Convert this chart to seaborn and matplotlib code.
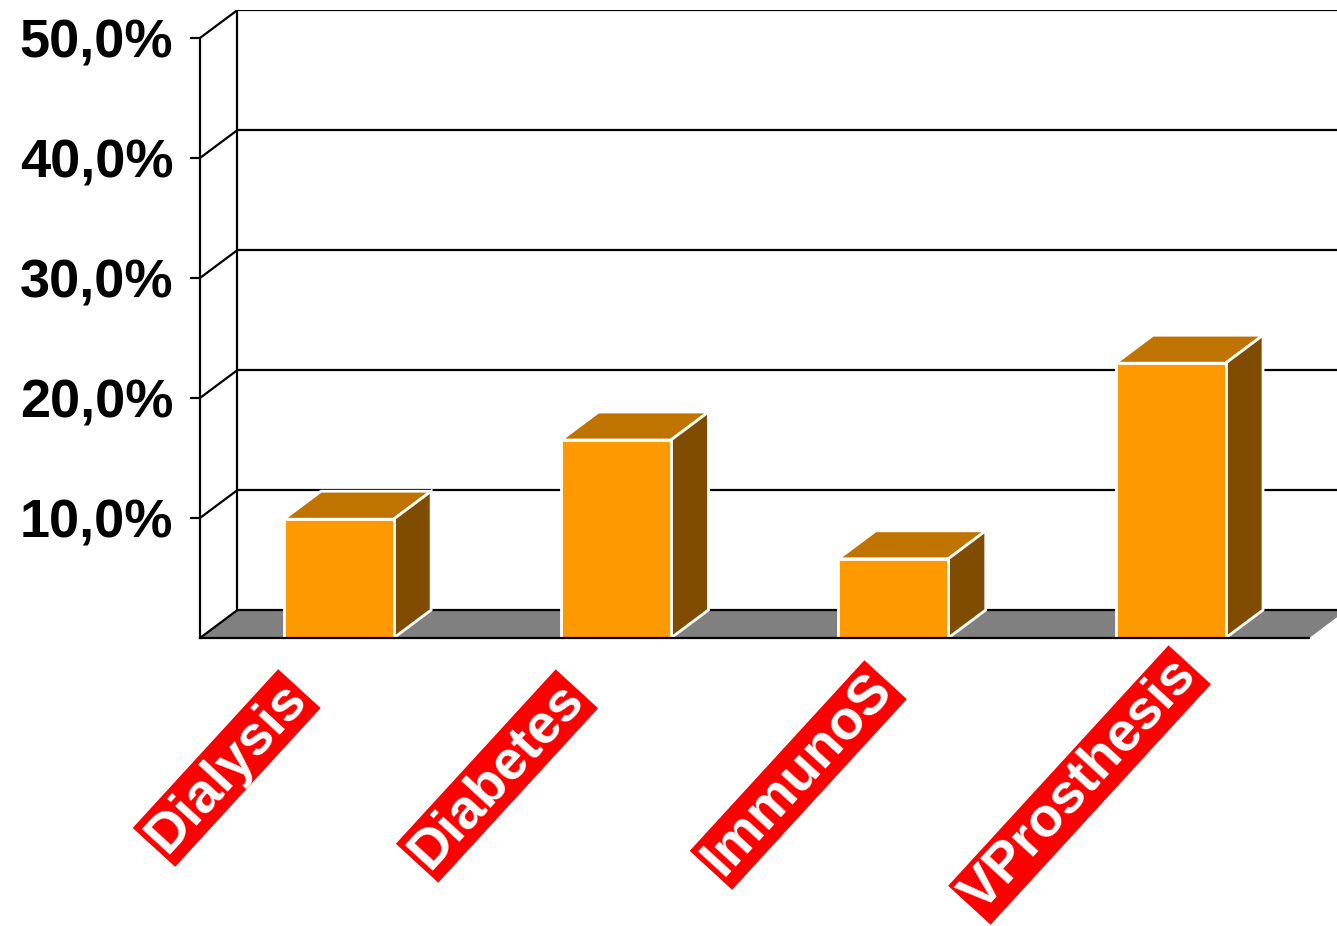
import matplotlib
matplotlib.use("Agg")
import matplotlib.pyplot as plt
from matplotlib.patches import Polygon
import seaborn as sns
import pandas as pd

# ---- data ----
categories = ["Dialysis", "Diabetes", "ImmunoS", "VProsthesis"]
values = [9.9, 16.5, 6.6, 22.9]
yticks = [10, 20, 30, 40, 50]
ytick_labels = ["10,0%", "20,0%", "30,0%", "40,0%", "50,0%"]

# ---- layout (pixels) ----
W, H = 1337, 926
px_per_cat = 277.3
px_per_pct = 12.0
depth_x_px, depth_y_px = 37.5, 28.0
lbl_dx_px = [-112, -119, -95, -91]     # label centre offset from category centre
lbl_y_px = [768, 776, 775, 785]        # label centre (pixel row from top)
axis_bottom_px, axis_left_px, top_px = 638, 200, 10

front = "#FF9900"
top_c = "#C07400"
side_c = "#804C00"
floor_c = "#808080"

sns.set_theme(style="white")
plt.rcParams["font.family"] = ["Liberation Sans", "DejaVu Sans"]

fig = plt.figure(figsize=(W / 100, H / 100), dpi=100)
ax = fig.add_axes([axis_left_px / W, (H - axis_bottom_px) / H,
                   (W - axis_left_px) / W, (axis_bottom_px - top_px) / H])

dx = depth_x_px / px_per_cat
dy = depth_y_px / px_per_pct
ymax = max(yticks)

df = pd.DataFrame({"cat": categories, "val": values})
sns.barplot(data=df, x="cat", y="val", color=front, saturation=1,
            width=110 / px_per_cat, edgecolor="white", linewidth=2,
            ax=ax, zorder=4)

ax.set_xlim(-0.5, -0.5 + (W - axis_left_px) / px_per_cat)
ax.set_ylim(0, ymax + dy)
ax.set_xlabel("")
ax.set_ylabel("")
ax.set_facecolor("white")

x0, x1 = -0.5, len(categories) - 0.5
lw = 1.6
# floor
ax.add_patch(Polygon([(x0, 0), (x1, 0), (x1 + dx, dy), (x0 + dx, dy)],
                     closed=True, facecolor=floor_c, edgecolor="none", zorder=1))
# back wall grid lines and left wall diagonals
for v in [0] + yticks:
    ax.plot([x0 + dx, x1 + dx + 1], [v + dy, v + dy], color="black", lw=lw,
            zorder=2, solid_capstyle="butt")
    ax.plot([x0, x0 + dx], [v, v + dy], color="black", lw=lw, zorder=2)
ax.plot([x0 + dx, x0 + dx], [dy, ymax + dy], color="black", lw=lw, zorder=2)

# 3D faces for bars
for p in ax.patches[:]:
    if not hasattr(p, "get_width"):
        continue
    bx, bw, bh = p.get_x(), p.get_width(), p.get_height()
    if bh <= 0:
        continue
    bx1 = bx + bw
    ax.add_patch(Polygon([(bx, bh), (bx1, bh), (bx1 + dx, bh + dy), (bx + dx, bh + dy)],
                         closed=True, facecolor=top_c, edgecolor="white", lw=2, zorder=3))
    ax.add_patch(Polygon([(bx1, 0), (bx1, bh), (bx1 + dx, bh + dy), (bx1 + dx, dy)],
                         closed=True, facecolor=side_c, edgecolor="white", lw=2, zorder=3))

# spines
for s in ["top", "right"]:
    ax.spines[s].set_visible(False)
ax.spines["left"].set_bounds(0, ymax)
ax.spines["bottom"].set_bounds(x0, x1)
for s in ["left", "bottom"]:
    ax.spines[s].set_color("black")
    ax.spines[s].set_linewidth(lw)
    ax.spines[s].set_zorder(6)

ax.set_yticks(yticks)
ax.set_yticklabels(ytick_labels, fontsize=39, fontweight="bold", color="black")
ax.tick_params(axis="y", left=True, direction="out", length=7.2, width=lw,
               color="black", pad=12)
ax.set_xticks(range(len(categories)))
ax.tick_params(axis="x", bottom=False, labelbottom=False)

# category labels
for i, name in enumerate(categories):
    ox = lbl_dx_px[i] * 72 / 100
    oy = -(lbl_y_px[i] - axis_bottom_px) * 72 / 100
    ax.annotate(name, xy=(i, 0), xycoords="data", xytext=(ox, oy),
                textcoords="offset points", ha="center", va="center",
                rotation=47.5, rotation_mode="anchor", fontsize=40,
                fontweight="bold", color="white", annotation_clip=False,
                bbox=dict(boxstyle="square,pad=0.05", facecolor="#FF0000",
                          edgecolor="none"))

fig.savefig("out.png", dpi=100)
